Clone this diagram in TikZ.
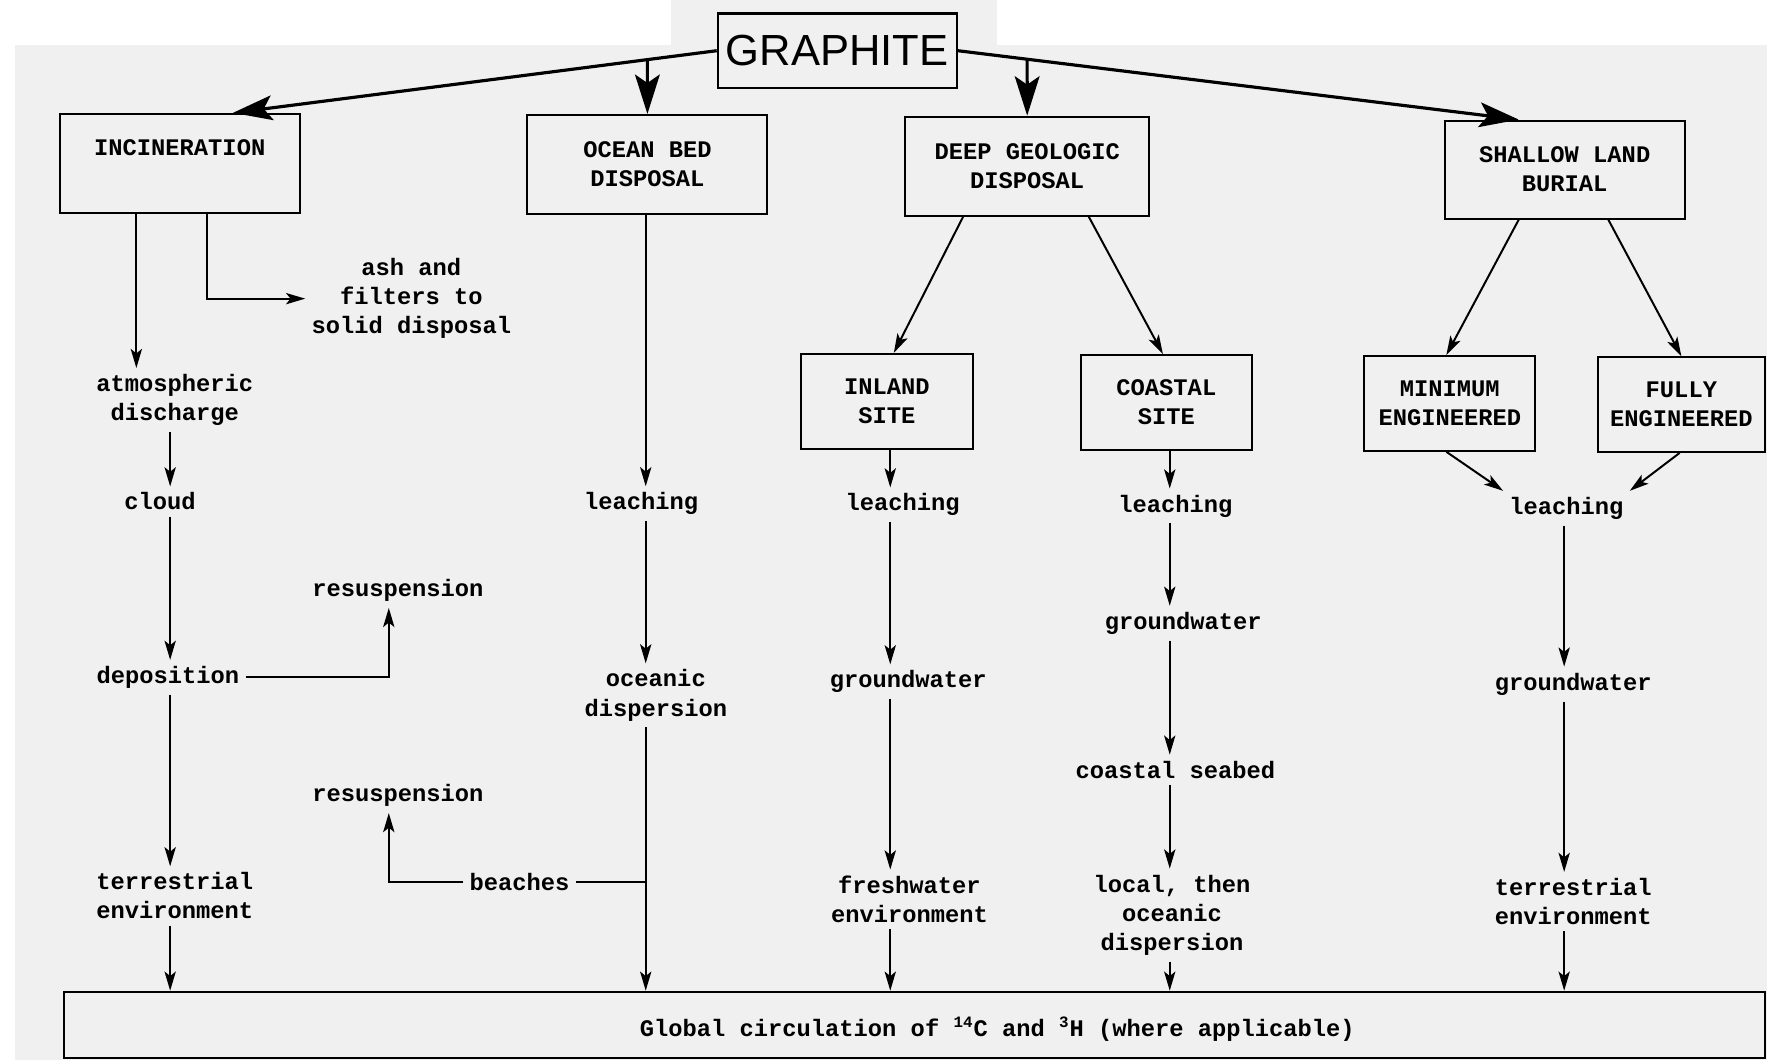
\documentclass[tikz,border=0pt]{standalone}
\usepackage{fontspec}
\usepackage{tikz}
\usetikzlibrary{arrows.meta, calc}
\newfontfamily\printfont{Liberation Mono}
\newfontfamily\headfont{Liberation Sans}
\definecolor{paper}{rgb}{0.94,0.94,0.94}

\begin{document}
\begin{tikzpicture}[x=0.02cm, y=-0.02cm]
\tikzstyle{box} = [draw=black, line width=1pt, align=center, inner sep=0pt, font=\printfont\bfseries\fontsize{12}{14.7}\selectfont]
\tikzstyle{big box} = [box, minimum width=4.26cm, minimum height=1.76cm]
\tikzstyle{site box} = [box, minimum width=3.04cm, minimum height=1.68cm]
\tikzstyle{stage} = [align=center, inner sep=3pt, font=\printfont\bfseries\fontsize{12}{14.7}\selectfont]
\tikzstyle{flow} = [draw=black, line width=1pt, -{Stealth[length=3.4mm, width=2mm, inset=0.8mm]}]
\tikzstyle{main flow} = [draw=black, line width=1.6pt, -{Stealth[length=7mm, width=4.4mm, inset=1.5mm]}]

\useasboundingbox (0,0) rectangle (1568,941);
\fill[paper] (13,40) rectangle (1568,941);
\fill[paper] (595,0) rectangle (885,40);

\node[draw=black, line width=1.2pt, minimum width=4.24cm, minimum height=1.32cm, font=\headfont\fontsize{22}{26}\selectfont] (graphite) at (743,45) {GRAPHITE};

\node[big box, text depth=16.5pt] (incin) at (159.5,145) {INCINERATION};
\node[big box] (ocean) at (574.5,146) {OCEAN BED\\DISPOSAL};
\node[big box, minimum width=4.34cm] (deep) at (911.5,147.5) {DEEP GEOLOGIC\\DISPOSAL};
\node[big box, minimum height=1.74cm] (shallow) at (1388.5,150.5) {SHALLOW LAND\\BURIAL};
\node[site box] (inland) at (787,356) {INLAND\\SITE};
\node[site box] (coastal) at (1035,357) {COASTAL\\SITE};
\node[site box] (minimum) at (1286.5,358) {MINIMUM\\ENGINEERED};
\node[site box, minimum width=2.96cm] (fully) at (1492,359) {FULLY\\ENGINEERED};
\node[box, minimum width=30.19cm, minimum height=1.18cm] (global) at (811.75,909.5) {};

\node[stage] (ash) at (365,265) {ash and\\filters to\\solid disposal};
\node[stage] (atmos) at (155,355) {atmospheric\\discharge};
\node[stage] (cloud) at (142,445) {cloud};
\node[stage] (depos) at (149,601) {deposition};
\node[stage] (resusp1) at (353,524) {resuspension};
\node[stage] (terr1) at (155,795) {terrestrial\\environment};
\node[stage] (leach1) at (569,447) {leaching};
\node[stage] (oceanic) at (582,617) {oceanic\\dispersion};
\node[stage] (beaches) at (461,783) {beaches};
\node[stage] (resusp2) at (353,706) {resuspension};
\node[stage] (leach2) at (801,448) {leaching};
\node[stage] (ground2) at (806,605) {groundwater};
\node[stage] (fresh) at (807,798) {freshwater\\environment};
\node[stage] (leach3) at (1043,449) {leaching};
\node[stage] (ground3) at (1050,553) {groundwater};
\node[stage] (seabed) at (1043,683) {coastal seabed};
\node[stage] (local) at (1040,812) {local, then\\oceanic\\dispersion};
\node[stage] (leach4) at (1390,451) {leaching};
\node[stage] (ground4) at (1396,607) {groundwater};
\node[stage] (terr2) at (1396,800) {terrestrial\\environment};
\node[stage] (globtext) at (885,913) {Global circulation of \textsuperscript{14}C and \textsuperscript{3}H (where applicable)};

\coordinate (gi) at ($(incin.north west)!0.72!(incin.north east)$);
\coordinate (gs) at ($(shallow.north west)!0.31!(shallow.north east)$);
\coordinate (x1) at (121,0);
\coordinate (x2) at (151,0);
\coordinate (x3) at (184,0);
\coordinate (x4) at (345,0);
\coordinate (x5) at (573,0);
\coordinate (x6) at (790,0);
\coordinate (x7) at (1038,0);
\coordinate (x8) at (1388,0);

\draw[main flow] (graphite.west) -- (gi);
\draw[main flow] (graphite.east) -- (gs);
\draw[main flow] (intersection of graphite.west--gi and ocean.north--ocean.south) -- (ocean.north);
\draw[main flow] (intersection of graphite.east--gs and deep.north--deep.south) -- (deep.north);

\draw[flow] (incin.south -| x1) -- (atmos.north -| x1);
\draw[flow] (incin.south -| x3) |- (ash.west);
\draw[flow] (atmos.south -| x2) -- (cloud.north -| x2);
\draw[flow] (cloud.south -| x2) -- (depos.north -| x2);
\draw[flow] (depos.east) -| (resusp1.south -| x4);
\draw[flow] (depos.south -| x2) -- (terr1.north -| x2);
\draw[flow] (terr1.south -| x2) -- (global.north -| x2);

\draw[flow] (ocean.south -| x5) -- (leach1.north -| x5);
\draw[flow] (leach1.south -| x5) -- (oceanic.north -| x5);
\draw[flow] (oceanic.south -| x5) -- (global.north -| x5);
\draw[line width=1pt] (x5 |- beaches) -- (beaches.east);
\draw[flow] (beaches.west) -| (resusp2.south -| x4);

\draw[flow] ($(deep.south west)!0.24!(deep.south east)$) -- ($(inland.north west)!0.54!(inland.north east)$);
\draw[flow] ($(deep.south west)!0.75!(deep.south east)$) -- ($(coastal.north west)!0.48!(coastal.north east)$);
\draw[flow] (inland.south -| x6) -- (leach2.north -| x6);
\draw[flow] (leach2.south -| x6) -- (ground2.north -| x6);
\draw[flow] (ground2.south -| x6) -- (fresh.north -| x6);
\draw[flow] (fresh.south -| x6) -- (global.north -| x6);
\draw[flow] (coastal.south -| x7) -- (leach3.north -| x7);
\draw[flow] (leach3.south -| x7) -- (ground3.north -| x7);
\draw[flow] (ground3.south -| x7) -- (seabed.north -| x7);
\draw[flow] (seabed.south -| x7) -- (local.north -| x7);
\draw[flow] (local.south -| x7) -- (global.north -| x7);

\draw[flow] ($(shallow.south west)!0.31!(shallow.south east)$) -- ($(minimum.north west)!0.48!(minimum.north east)$);
\draw[flow] ($(shallow.south west)!0.68!(shallow.south east)$) -- ($(fully.north west)!0.5!(fully.north east)$);
\draw[flow] ($(minimum.south west)!0.48!(minimum.south east)$) -- (leach4.north west);
\draw[flow] ($(fully.south west)!0.49!(fully.south east)$) -- (leach4.north east);
\draw[flow] (leach4.south -| x8) -- (ground4.north -| x8);
\draw[flow] (ground4.south -| x8) -- (terr2.north -| x8);
\draw[flow] (terr2.south -| x8) -- (global.north -| x8);
\end{tikzpicture}
\end{document}
